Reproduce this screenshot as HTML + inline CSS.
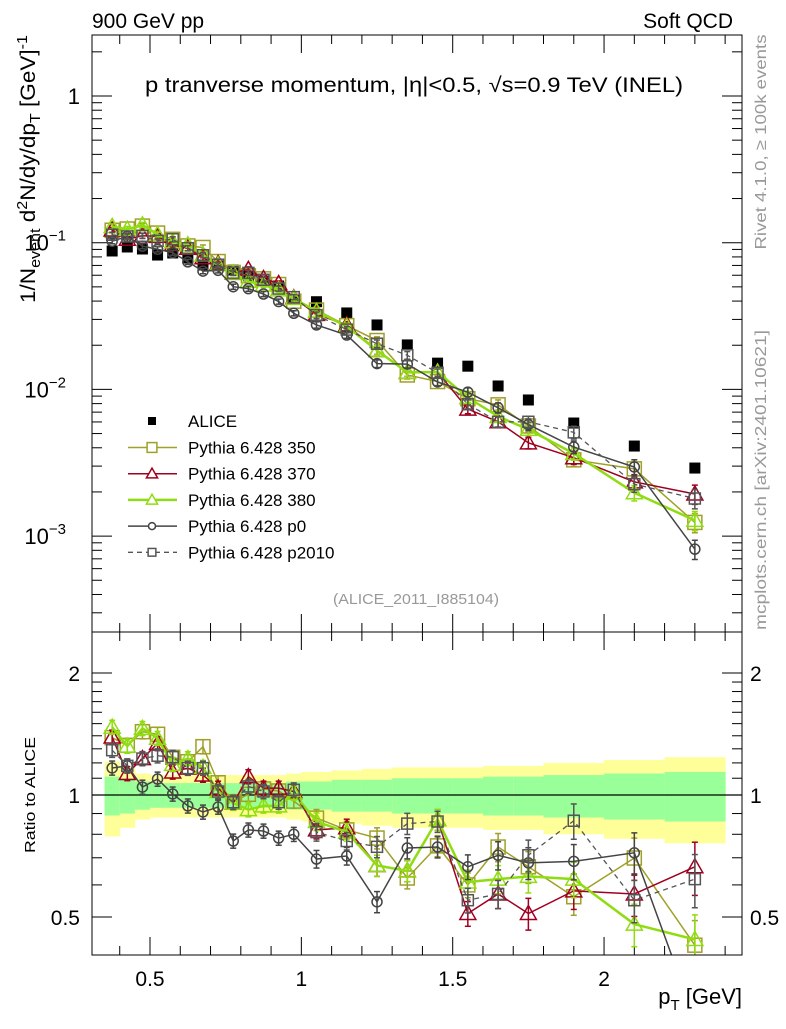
<!DOCTYPE html>
<html><head><meta charset="utf-8">
<style>
html,body{margin:0;padding:0;background:#fff;}
svg text{font-family:"Liberation Sans",sans-serif;}
</style></head>
<body>
<svg id="chart" width="786" height="1024" viewBox="0 0 786 1024" xmlns="http://www.w3.org/2000/svg">
<defs>
<clipPath id="cm"><rect x="92" y="35" width="650" height="597"/></clipPath>
<clipPath id="cr"><rect x="92" y="632" width="650" height="323"/></clipPath>
</defs>
<g id="bands" clip-path="url(#cr)"></g>
<g id="ticks"></g>
<g id="mainMarks" clip-path="url(#cm)"></g>
<g id="ratioMarks" clip-path="url(#cr)"></g>
<rect x="92" y="35" width="650" height="597" fill="none" stroke="#000" stroke-width="1"/>
<rect x="92" y="632" width="650" height="323" fill="none" stroke="#000" stroke-width="1"/>
<text x="92" y="28" font-size="21">900 GeV pp</text>
<text x="733" y="28" font-size="21" text-anchor="end">Soft QCD</text>
<text x="414" y="92" font-size="21" text-anchor="middle" textLength="538" lengthAdjust="spacingAndGlyphs">p tranverse momentum, |η|&lt;0.5, √s=0.9 TeV (INEL)</text>
<text x="416" y="604" font-size="15" fill="#999" text-anchor="middle" textLength="166" lengthAdjust="spacingAndGlyphs">(ALICE_2011_I885104)</text>
<text transform="translate(35,169) rotate(-90)" font-size="21" text-anchor="middle" textLength="268" lengthAdjust="spacingAndGlyphs">1/N<tspan font-size="15" dy="5">event</tspan><tspan dy="-5"> d</tspan><tspan font-size="15" dy="-8">2</tspan><tspan dy="8">N/dy/dp</tspan><tspan font-size="15" dy="5">T</tspan><tspan dy="-5"> [GeV]</tspan><tspan font-size="15" dy="-8">-1</tspan></text>
<text transform="translate(35,795) rotate(-90)" font-size="15" text-anchor="middle" textLength="116" lengthAdjust="spacingAndGlyphs">Ratio to ALICE</text>
<text transform="translate(766,142) rotate(-90)" font-size="16" fill="#999" text-anchor="middle" textLength="215" lengthAdjust="spacingAndGlyphs">Rivet 4.1.0, ≥ 100k events</text>
<text transform="translate(766,480) rotate(-90)" font-size="16" fill="#999" text-anchor="middle" textLength="300" lengthAdjust="spacingAndGlyphs">mcplots.cern.ch [arXiv:2401.10621]</text>
<text x="742" y="1004" font-size="22" text-anchor="end">p<tspan font-size="15" dy="6">T</tspan><tspan dy="-6"> [GeV]</tspan></text>
<g id="legend"></g>
</svg>
<script>
const binEdges = [0.35,0.4,0.45,0.5,0.55,0.6,0.65,0.7,0.75,0.8,0.85,0.9,0.95,1.0,1.1,1.2,1.3,1.4,1.5,1.6,1.7,1.8,2.0,2.2,2.4];
const ptCenters = [0.375,0.425,0.475,0.525,0.575,0.625,0.675,0.725,0.775,0.825,0.875,0.925,0.975,1.05,1.15,1.25,1.35,1.45,1.55,1.65,1.75,1.9,2.1,2.3];
const aliceValues = [0.0878,0.0935,0.0906,0.0824,0.0851,0.0787,0.0705,0.0694,0.0651,0.0593,0.0548,0.0507,0.0413,0.0396,0.0332,0.0275,0.0201,0.0151,0.0144,0.01055,0.00847,0.0059,0.00411,0.00291];
const ratio350 = [1.385,1.326,1.433,1.412,1.239,1.208,1.316,1.072,0.963,1.004,1.035,1.023,0.966,0.877,0.82,0.783,0.624,0.749,0.60,0.744,0.665,0.561,0.699,0.426];
const ratio370 = [1.39,1.13,1.23,1.34,1.14,1.165,1.12,1.04,0.955,1.11,1.04,1.04,1.02,0.82,0.83,0.67,0.65,0.87,0.51,0.57,0.51,0.58,0.57,0.665];
const ratio380 = [1.47,1.32,1.46,1.38,1.19,1.23,1.17,1.02,0.955,0.92,0.94,0.94,1.01,0.86,0.81,0.67,0.65,0.87,0.61,0.62,0.63,0.62,0.48,0.44];
const ratioP0 = [1.166,1.18,1.046,1.095,1.006,0.94,0.908,0.934,0.77,0.82,0.815,0.783,0.80,0.695,0.707,0.545,0.74,0.744,0.665,0.71,0.68,0.686,0.72,0.28];
const ratioP2010 = [1.29,1.18,1.23,1.25,1.24,1.165,1.165,1.02,0.96,1.05,1.02,0.96,1.03,0.81,0.77,0.745,0.85,0.86,0.55,0.57,0.71,0.864,0.55,0.62];
const mcErr = [0.04,0.04,0.04,0.04,0.04,0.04,0.04,0.04,0.04,0.04,0.04,0.04,0.04,0.05,0.05,0.06,0.06,0.06,0.07,0.08,0.09,0.10,0.12,0.15];
const bandYellow = [0.21,0.17,0.13,0.12,0.12,0.12,0.12,0.12,0.12,0.12,0.12,0.12,0.13,0.14,0.15,0.16,0.17,0.17,0.17,0.18,0.18,0.2,0.22,0.24];
const bandGreen = [0.11,0.10,0.08,0.07,0.07,0.07,0.07,0.07,0.07,0.07,0.07,0.07,0.08,0.08,0.09,0.09,0.1,0.1,0.1,0.11,0.11,0.12,0.13,0.14];
const mainTickLabels = ["1","10","10","10"];
const ratioTickLabels = ["0.5","1","2"];
const xTickLabels = ["0.5","1","1.5","2"];

const NS="http://www.w3.org/2000/svg";
const X=v=>150+(v-0.5)*302.7;
const YM=v=>96-146.7*Math.log10(v);
const YR=r=>795-122*Math.log2(r);
function mk(tag,attrs,parent){const e=document.createElementNS(NS,tag);for(const k in attrs)e.setAttribute(k,attrs[k]);parent.appendChild(e);return e;}

// bands
const gb=document.getElementById('bands');
for(let i=0;i<ptCenters.length;i++){
  const x0=X(binEdges[i]),x1=X(binEdges[i+1]);
  const y=mk('rect',{x:x0,y:YR(1+bandYellow[i]),width:x1-x0+0.5,height:YR(1-bandYellow[i])-YR(1+bandYellow[i]),fill:'#ffff99'},gb);
  
  
  const g=mk('rect',{x:x0,y:YR(1+bandGreen[i]),width:x1-x0+0.5,height:YR(1-bandGreen[i])-YR(1+bandGreen[i]),fill:'#99ff99'},gb);
  
  
}
const one=mk('line',{x1:92,x2:742,y1:YR(1),y2:YR(1),stroke:'#000','stroke-width':1.2},gb);



// ticks
const gt=document.getElementById('ticks');
function tick(x1,y1,x2,y2){mk('line',{x1,y1,x2,y2,stroke:'#000','stroke-width':1},gt);}
function label(x,y,t,anchor,size){const e=mk('text',{x,y,'font-size':size||20,'text-anchor':anchor},gt);e.textContent=t;return e;}
for(let v=0.4;v<=2.41;v+=0.1){
  const vv=Math.round(v*10)/10;const x=X(vv);
  const major=Math.abs(vv*2-Math.round(vv*2))<1e-6;
  const L=major?18:9;
  tick(x,35,x,35+L);tick(x,632,x,632-L);tick(x,632,x,632+L);tick(x,955,x,955-L);
}
xTickLabels.forEach(t=>{label(X(parseFloat(t)),986,t,'middle',21);});
for(let d=-4;d<=0;d++){
  for(let m=1;m<=9;m++){
    const v=m*Math.pow(10,d);const y=YM(v);
    if(y<35||y>632)continue;
    const L=m===1?20:10;
    tick(92,y,92+L,y);tick(742,y,742-L,y);
  }
}
label(80,104,mainTickLabels[0],'end',22);
[-1,-2,-3].forEach((d,i)=>{const t=label(66,YM(Math.pow(10,d))+8,mainTickLabels[i+1],'end',22);
  const s=document.createElementNS(NS,'tspan');s.setAttribute('font-size','15');s.setAttribute('dy','-10');s.textContent=String(d).replace('-','−');t.appendChild(s);});
[0.4,0.5,0.6,0.7,0.8,0.9,1,1.1,1.2,1.3,1.4,1.5,1.6,1.7,1.8,1.9,2].forEach(r=>{
  const y=YR(r);if(y<632||y>955)return;
  const major=(r===0.5||r===1||r===2);const L=major?20:10;
  tick(92,y,92+L,y);tick(742,y,742-L,y);
});
ratioTickLabels.forEach(t=>{const y=YR(parseFloat(t))+8;label(80,y,t,'end',21);label(750,y,t,'start',21);});

// series
const series=[
 {name:'pythia-350',ratio:ratio350,color:'#a0a028',w:1.5,marker:'square',dash:null,label:'Pythia 6.428 350'},
 {name:'pythia-370',ratio:ratio370,color:'#a00020',w:1.5,marker:'triangle',dash:null,label:'Pythia 6.428 370'},
 {name:'pythia-380',ratio:ratio380,color:'#8fdd10',w:2.5,marker:'triangle',dash:null,label:'Pythia 6.428 380'},
 {name:'pythia-p0',ratio:ratioP0,color:'#444444',w:1.5,marker:'circle',dash:null,label:'Pythia 6.428 p0'},
 {name:'pythia-p2010',ratio:ratioP2010,color:'#555555',w:1.3,marker:'smallsquare',dash:'5,4',label:'Pythia 6.428 p2010'}
];
function marker(g,type,x,y,color,sc){
  sc=sc||1;let e;
  if(type==='square') e=mk('rect',{x:x-7*sc,y:y-7*sc,width:14*sc,height:14*sc,fill:'none',stroke:color,'stroke-width':1.5},g);
  else if(type==='smallsquare') e=mk('rect',{x:x-5.5*sc,y:y-5.5*sc,width:11*sc,height:11*sc,fill:'none',stroke:color,'stroke-width':1.5},g);
  else if(type==='triangle') e=mk('polygon',{points:`${x},${y-8*sc} ${x-8*sc},${y+6*sc} ${x+8*sc},${y+6*sc}`,fill:'none',stroke:color,'stroke-width':1.5},g);
  else if(type==='circle') e=mk('circle',{cx:x,cy:y,r:5*sc,fill:'none',stroke:color,'stroke-width':1.5},g);
  else e=mk('rect',{x:x-5.5*sc,y:y-5.5*sc,width:11*sc,height:11*sc,fill:color},g);
  return e;
}
function drawSeries(parentId,yf,vals,s,pref){
  const par=document.getElementById(parentId);
  const g=mk('g',{},par);
  
  
  const pts=vals.map((v,i)=>X(ptCenters[i])+','+yf(v)).join(' ');
  const attrs={points:pts,fill:'none',stroke:s.color,'stroke-width':s.w};
  if(s.dash)attrs['stroke-dasharray']=s.dash;
  mk('polyline',attrs,g);
  vals.forEach((v,i)=>{
    const x=X(ptCenters[i]);
    const y1=yf(v*(1+mcErr[i])),y2=yf(v*(1-mcErr[i]));
    mk('line',{x1:x,x2:x,y1,y2,stroke:s.color,'stroke-width':1.5},g);
    mk('line',{x1:x-3,x2:x+3,y1,y2:y1,stroke:s.color,'stroke-width':1.5},g);
    mk('line',{x1:x-3,x2:x+3,y1:y2,y2,stroke:s.color,'stroke-width':1.5},g);
    const m=marker(g,s.marker,x,yf(v),s.color);
    
    
  });
}
// ALICE main
const gm=document.getElementById('mainMarks');
aliceValues.forEach((v,i)=>{
  const r=mk('rect',{x:X(ptCenters[i])-5.5,y:YM(v)-5.5,width:11,height:11,fill:'#000'},gm);
  
  
});
series.forEach(s=>{
  drawSeries('mainMarks',YM,s.ratio.map((r,i)=>r*aliceValues[i]),s,'main');
  drawSeries('ratioMarks',YR,s.ratio,s,'ratio');
});

// legend
const gl=document.getElementById('legend');
const la=mk('rect',{x:148,y:417,width:8,height:8,fill:'#000'},gl);


const lt=mk('text',{x:188,y:427,'font-size':17},gl);lt.textContent='ALICE';
series.forEach((s,i)=>{
  const y=447.5+i*26.2;
  const g=mk('g',{},gl);
  
  
  const a={x1:128,x2:177,y1:y,y2:y,stroke:s.color,'stroke-width':s.w};
  if(s.dash)a['stroke-dasharray']=s.dash;
  mk('line',a,g);
  const m=marker(g,s.marker,152,y,s.color,0.7);m.setAttribute('fill','#fff');
  const t=mk('text',{x:188,y:y+6,'font-size':17},g);t.textContent=s.label;
});
</script>
</body></html>
